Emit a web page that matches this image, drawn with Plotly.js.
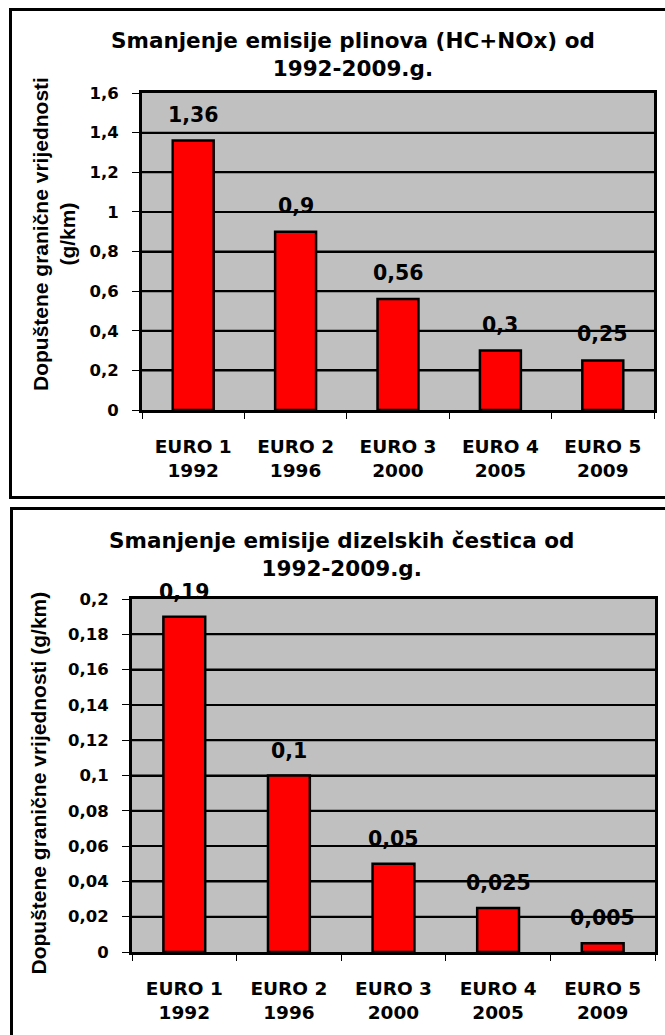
<!DOCTYPE html>
<html>
<head>
<meta charset="utf-8">
<script src="https://cdn.plot.ly/plotly-3.0.1.min.js"></script>
<style>
  html, body { margin: 0; padding: 0; background: #fff; width: 665px; height: 1035px; overflow: hidden; }
  #chart { position: absolute; left: 0; top: 0; width: 665px; height: 1035px; }
  .frame { position: absolute; border: 3px solid #000; box-sizing: border-box; pointer-events: none; }
  #f1 { left: 9px; top: 8px; width: 700px; height: 491px; }
  #f2 { left: 10px; top: 507px; width: 700px; height: 560px; }
</style>
</head>
<body>
<div id="chart"></div>
<div class="frame" id="f1"></div>
<div class="frame" id="f2"></div>
<script>
// ---- data ----
const standards = ['EURO 1', 'EURO 2', 'EURO 3', 'EURO 4', 'EURO 5'];
const years = ['1992', '1996', '2000', '2005', '2009'];

const gasTitle = 'Smanjenje emisije plinova (HC+NOx) od<br>1992-2009.g.';
const gasValues = [1.36, 0.9, 0.56, 0.3, 0.25];
const gasTickVals = [0, 0.2, 0.4, 0.6, 0.8, 1, 1.2, 1.4, 1.6];
const gasTickText = ['0', '0,2', '0,4', '0,6', '0,8', '1', '1,2', '1,4', '1,6'];

const pmTitle = 'Smanjenje emisije dizelskih čestica od<br>1992-2009.g.';
const pmValues = [0.19, 0.1, 0.05, 0.025, 0.005];
const pmTickVals = [0, 0.02, 0.04, 0.06, 0.08, 0.1, 0.12, 0.14, 0.16, 0.18, 0.2];
const pmTickText = ['0', '0,02', '0,04', '0,06', '0,08', '0,1', '0,12', '0,14', '0,16', '0,18', '0,2'];

const yTitleTop = 'Dopuštene granične vrijednosti<br>(g/km)';
const yTitleBottom = 'Dopuštene granične vrijednosti (g/km)';

// ---- build ----
const W = 665, H = 1035;
const FONT = 'DejaVu Sans, Verdana, sans-serif';
const FONT_Y = 'Liberation Sans, Arial, sans-serif';
const categories = standards.map((s, i) => s + '<br>' + years[i]);
const fmt = v => String(v).replace('.', ',');
const px = x => x / W;          // page pixel -> paper x
const py = y => 1 - y / H;      // page pixel -> paper y

// hidden numeric x axis that carries the gridline trace (drawn underneath the bars)
function gridX(domain) {
  return { domain: domain, range: [0, 1], visible: false, showgrid: false, zeroline: false };
}
// visible category axis, overlaid on the hidden one, that carries the bars
function catX(over, anchor) {
  return {
    overlaying: over, anchor: anchor, type: 'category',
    showline: true, linecolor: '#000', linewidth: 3, mirror: true,
    ticks: 'outside', tickson: 'boundaries', ticklen: 6, tickcolor: '#000', tickwidth: 1,
    ticklabelstandoff: 18,
    tickfont: { family: FONT, size: 18.5, color: '#000', weight: 'bold' },
    showgrid: false, zeroline: false
  };
}
function valY(domain, anchor, range, vals, text) {
  return {
    domain: domain, anchor: anchor, range: range,
    tickmode: 'array', tickvals: vals, ticktext: text,
    showline: true, linecolor: '#000', linewidth: 3, mirror: true,
    ticks: 'outside', ticklen: 7, tickcolor: '#000', tickwidth: 1,
    ticklabelstandoff: 10,
    tickfont: { family: FONT, size: 16.5, color: '#000', weight: 'bold' },
    showgrid: true, gridcolor: '#000', gridwidth: 2, zeroline: false
  };
}
function gridTrace(tickVals, xa, ya) {
  const xs = [], ys = [];
  tickVals.slice(1, -1).forEach(t => { xs.push(0, 1, null); ys.push(t, t, null); });
  return {
    type: 'scatter', mode: 'lines', x: xs, y: ys, xaxis: xa, yaxis: ya,
    line: { color: '#000', width: 2 }, hoverinfo: 'skip', connectgaps: false
  };
}
function barTrace(values, xa, ya) {
  return {
    type: 'bar', x: categories, y: values, xaxis: xa, yaxis: ya,
    marker: { color: '#FF0000', line: { color: '#000', width: 2.5 } }
  };
}
function valueLabels(values, xa, ya, shift) {
  return values.map((v, i) => ({
    x: categories[i], y: v, xref: xa, yref: ya,
    text: fmt(v), showarrow: false, yanchor: 'bottom', yshift: shift,
    font: { family: FONT, size: 20.5, color: '#000', weight: 'bold' }
  }));
}
function textNote(text, x, y, size, family, angle) {
  return {
    xref: 'paper', yref: 'paper', x: px(x), y: py(y),
    xanchor: 'center', yanchor: 'middle', textangle: angle || 0, showarrow: false,
    text: text, font: { family: family, size: size, color: '#000', weight: 'bold' }
  };
}

const data = [
  gridTrace(gasTickVals, 'x', 'y'),
  gridTrace(pmTickVals, 'x3', 'y2'),
  barTrace(gasValues, 'x2', 'y'),
  barTrace(pmValues, 'x4', 'y2')
];

const annotations = []
  .concat(valueLabels(gasValues, 'x2', 'y', 12))
  .concat(valueLabels(pmValues, 'x4', 'y2', 11))
  .concat([
    textNote(gasTitle, 353, 54, 21.5, FONT),
    textNote(pmTitle, 342, 554, 21.5, FONT),
    textNote(yTitleTop, 54, 234, 21, FONT_Y, -90),
    textNote(yTitleBottom, 38, 783.5, 21, FONT_Y, -90)
  ]);

const layout = {
  width: W, height: H,
  margin: { l: 0, r: 0, t: 0, b: 0 },
  plot_bgcolor: '#C0C0C0',
  showlegend: false,
  bargap: 0.6,
  xaxis: gridX([px(142), px(654)]),
  xaxis2: catX('x', 'y'),
  yaxis: valY([py(410), py(93)], 'x', [0, 1.6], gasTickVals, gasTickText),
  xaxis3: gridX([px(132), px(655)]),
  xaxis4: catX('x3', 'y2'),
  yaxis2: valY([py(952), py(599)], 'x3', [0, 0.2], pmTickVals, pmTickText),
  annotations: annotations
};

Plotly.newPlot('chart', data, layout, { staticPlot: true });
</script>
</body>
</html>
